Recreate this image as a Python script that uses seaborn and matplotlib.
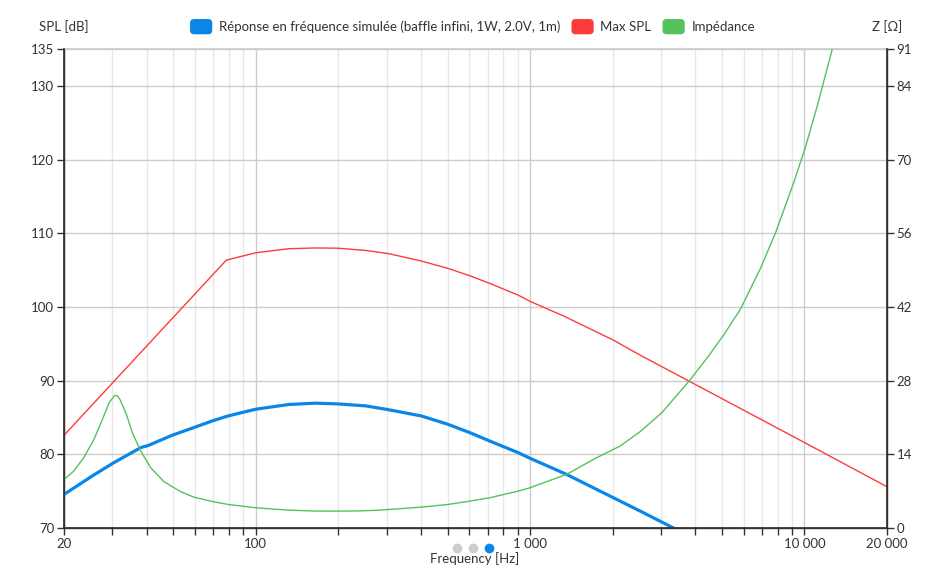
import matplotlib
matplotlib.use("Agg")
import matplotlib.pyplot as plt
import seaborn as sns
import pandas as pd
from matplotlib.lines import Line2D
from matplotlib.patches import Patch, FancyBboxPatch
from matplotlib.legend_handler import HandlerBase
from matplotlib.ticker import FixedLocator, FixedFormatter, NullFormatter

# ---- data ----
freq_resp = [20, 25.7, 30.4, 38.1, 40.7, 49.6, 59.5, 69.4, 79.4, 100, 132,
             165, 199, 252, 282, 307, 401, 501, 602, 712, 904, 1000, 1357,
             2011, 2518, 3332, 4000]
spl_resp = [74.56, 77.2, 78.87, 80.91, 81.22, 82.59, 83.63, 84.53, 85.21,
            86.12, 86.76, 86.94, 86.84, 86.57, 86.26, 86.03, 85.21, 84.08,
            82.95, 81.81, 80.23, 79.46, 77.28, 74.11, 72.3, 70.0, 68.5]

freq_max = [20, 78.1, 100, 132, 165, 199, 252, 282, 307, 401, 501, 602, 712,
            904, 1000, 1320, 2011, 2518, 3811, 10000, 20000]
spl_max = [82.58, 106.35, 107.35, 107.9, 108.0, 107.97, 107.66, 107.41,
           107.21, 106.23, 105.24, 104.24, 103.2, 101.61, 100.75, 98.8, 95.5,
           93.46, 89.9, 81.6, 75.6]

freq_z = [20, 21.7, 23.6, 25.7, 27.6, 29.2, 30.6, 31.3, 32.0, 33.6, 35.5,
          38.1, 41.4, 46.3, 49.6, 53.3, 59.5, 70, 79.4, 100, 132, 165, 199,
          240, 282, 401, 501, 602, 712, 904, 1000, 1357, 1748, 2128, 2518,
          3022, 3811, 4473, 5050, 5836, 6912, 7838, 9148, 10117, 11140,
          11580, 12636]
imp_z = [9.2, 10.8, 13.35, 16.8, 20.6, 23.8, 25.2, 25.1, 24.4, 21.9, 18.1,
         14.6, 11.45, 8.8, 7.85, 6.9, 5.85, 5.0, 4.47, 3.84, 3.39, 3.22, 3.2,
         3.25, 3.39, 3.96, 4.47, 5.1, 5.74, 7.0, 7.65, 10.18, 13.35, 15.56,
         18.3, 21.9, 28.0, 32.67, 36.5, 41.5, 49.3, 56.0, 65.65, 72.6, 80.2,
         83.5, 91.0]

x_ticks = [20, 100, 1000, 10000, 20000]
x_tick_labels = ["20", "100", "1 000", "10 000", "20 000"]
left_ticks = [70, 80, 90, 100, 110, 120, 130, 135]
right_ticks = [0, 14, 28, 42, 56, 70, 84, 91]

series_names = ["Réponse en fréquence simulée (baffle infini, 1W, 2.0V, 1m)",
                "Max SPL", "Impédance"]

BLUE = "#0a86e8"
RED = "#ff3b3b"
GREEN = "#55c25e"
TXT = "#333333"
FS = 9.5

sns.set_theme(style="white")
plt.rcParams["font.family"] = ["Lato", "DejaVu Sans"]
plt.rcParams["font.size"] = FS

fig = plt.figure(figsize=(9.47, 5.8), dpi=100)
ax = fig.add_axes([64 / 947, 52 / 580, 823 / 947, 479 / 580])
ax.set_xscale("log")

df_resp = pd.DataFrame({"f": freq_resp, "spl": spl_resp})
df_max = pd.DataFrame({"f": freq_max, "spl": spl_max})
df_z = pd.DataFrame({"f": freq_z, "z": imp_z})

sns.lineplot(data=df_max, x="f", y="spl", ax=ax, color=RED, lw=1.0, zorder=3)
sns.lineplot(data=df_resp, x="f", y="spl", ax=ax, color=BLUE, lw=2.3, zorder=4)

ax.set_xlim(20, 20000)
ax.set_ylim(70, 135)

ax.xaxis.set_major_locator(FixedLocator(x_ticks))
ax.xaxis.set_major_formatter(FixedFormatter(x_tick_labels))
minor = [m * d for d in (10, 100, 1000) for m in range(2, 10)]
minor = [v for v in minor if 20 < v < 20000 and v not in x_ticks]
ax.xaxis.set_minor_locator(FixedLocator(minor))
ax.xaxis.set_minor_formatter(NullFormatter())
ax.grid(which="major", axis="x", color="#cccccc", lw=1)
ax.grid(which="minor", axis="x", color="#e8e8e8", lw=1)
ax.grid(which="major", axis="y", color="#cccccc", lw=1)
ax.set_axisbelow(True)

ax.set_yticks(left_ticks)
ax.set_yticklabels([str(t) for t in left_ticks])
ax.tick_params(axis="y", which="both", direction="out", length=5, width=1,
               color=TXT, labelcolor=TXT, labelsize=FS, pad=2, left=True)
ax.tick_params(axis="x", which="both", direction="out", length=5, width=1,
               color=TXT, labelcolor=TXT, labelsize=FS, pad=2, bottom=True)
ax.set_xlabel("")
ax.set_ylabel("")

for s in ("left", "bottom", "right"):
    ax.spines[s].set_color(TXT)
    ax.spines[s].set_linewidth(1)
ax.spines["top"].set_color("#cccccc")

ax2 = ax.twinx()
sns.lineplot(data=df_z, x="f", y="z", ax=ax2, color=GREEN, lw=1.0)
ax2.set_ylim(0, 91)
ax2.set_xlim(20, 20000)
ax2.set_yticks(right_ticks)
ax2.set_yticklabels([str(t) for t in right_ticks])
ax2.tick_params(axis="y", direction="out", length=5, width=1, color=TXT,
                labelcolor=TXT, labelsize=FS, pad=2, right=True)
ax2.set_ylabel("")
ax2.grid(False)
for s in ("left", "bottom", "right"):
    ax2.spines[s].set_color(TXT)
ax2.spines["top"].set_visible(False)

# axis titles
fig.text(64 / 947, 1 - 27 / 580, "SPL [dB]", ha="center", va="center",
         color=TXT, fontsize=FS)
fig.text(887 / 947, 1 - 27 / 580, "Z [Ω]", ha="center", va="center",
         color=TXT, fontsize=FS)
fig.text(475 / 947, 1 - 559 / 580, "Frequency [Hz]", ha="center",
         va="center", color=TXT, fontsize=FS)

# pagination dots
for xp, c in zip([457, 473, 489], ["#cccccc", "#cccccc", BLUE]):
    fig.add_artist(Line2D([xp / 947], [1 - 548 / 580], marker="o",
                          markersize=6, color=c, linestyle="none",
                          transform=fig.transFigure))


class RoundBox(HandlerBase):
    def create_artists(self, legend, orig_handle, xdescent, ydescent, width,
                       height, fontsize, trans):
        w, h = 16, 11
        x0 = -xdescent + (width - w) / 2
        y0 = -ydescent + (height - h) / 2
        p = FancyBboxPatch((x0, y0), w, h,
                           boxstyle="round,pad=0,rounding_size=3",
                           fc=orig_handle.get_facecolor(), ec="none",
                           transform=trans)
        return [p]


handles = [Patch(facecolor=c) for c in (BLUE, RED, GREEN)]
fig.legend(handles, series_names, loc="center", ncol=3,
           bbox_to_anchor=(472.5 / 947, 1 - 27 / 580), frameon=False,
           handlelength=16 / FS, handletextpad=0.5, columnspacing=0.85,
           fontsize=FS, labelcolor=TXT, handler_map={Patch: RoundBox()})

fig.savefig("out.png", dpi=100)
